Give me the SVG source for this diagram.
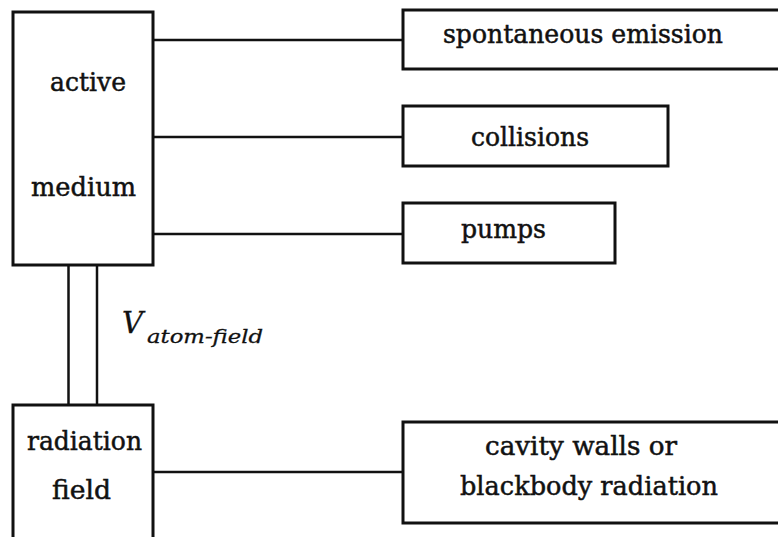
<svg xmlns="http://www.w3.org/2000/svg" width="778" height="537" viewBox="0 0 778 537">
<style>
.box{fill:#fff;stroke:#111;stroke-width:3}
.ln{fill:none;stroke:#111;stroke-width:2.5}
.t{font-family:"DejaVu Serif","Liberation Serif",serif;font-size:26px;fill:#111;stroke:#111;stroke-width:0.5}
.it{font-family:"DejaVu Serif","Liberation Serif",serif;font-style:italic;fill:#111;stroke:#111;stroke-width:0.3}
</style>
<rect width="778" height="537" fill="#fff"/>
<g id="connectors">
<line class="ln" x1="154" y1="40" x2="403" y2="40"/>
<line class="ln" x1="154" y1="137" x2="403" y2="137"/>
<line class="ln" x1="154" y1="234" x2="403" y2="234"/>
<line class="ln" x1="68.5" y1="264" x2="68.5" y2="405"/>
<line class="ln" x1="97" y1="264" x2="97" y2="405"/>
<line class="ln" x1="154" y1="472" x2="403" y2="472"/>
<g id="coupling-label">
<text class="it" x="122" y="333" font-size="29">V</text>
<text class="it" x="147" y="343" font-size="19" textLength="116" lengthAdjust="spacingAndGlyphs">atom-field</text>
</g>
</g>
<g id="active-medium">
<rect class="box" x="13" y="12" width="140" height="253"/>
<text class="t" x="50" y="91" textLength="76" lengthAdjust="spacingAndGlyphs">active</text>
<text class="t" x="31" y="196" textLength="105" lengthAdjust="spacingAndGlyphs">medium</text>
</g>
<g id="spontaneous-emission">
<rect class="box" x="403" y="10" width="390" height="59"/>
<text class="t" x="443" y="43" textLength="280" lengthAdjust="spacingAndGlyphs">spontaneous emission</text>
</g>
<g id="collisions">
<rect class="box" x="403" y="106" width="265" height="60"/>
<text class="t" x="471" y="146" textLength="118" lengthAdjust="spacingAndGlyphs">collisions</text>
</g>
<g id="pumps">
<rect class="box" x="403" y="203" width="212" height="60"/>
<text class="t" x="461" y="238" textLength="85" lengthAdjust="spacingAndGlyphs">pumps</text>
</g>
<g id="radiation-field">
<rect class="box" x="13" y="405" width="140" height="150"/>
<text class="t" x="27" y="450" textLength="115" lengthAdjust="spacingAndGlyphs">radiation</text>
<text class="t" x="52" y="499" textLength="59" lengthAdjust="spacingAndGlyphs">field</text>
</g>
<g id="cavity-walls">
<rect class="box" x="403" y="422" width="390" height="101"/>
<text class="t" x="485" y="455" textLength="192" lengthAdjust="spacingAndGlyphs">cavity walls or</text>
<text class="t" x="460" y="495" textLength="258" lengthAdjust="spacingAndGlyphs">blackbody radiation</text>
</g>
</svg>
